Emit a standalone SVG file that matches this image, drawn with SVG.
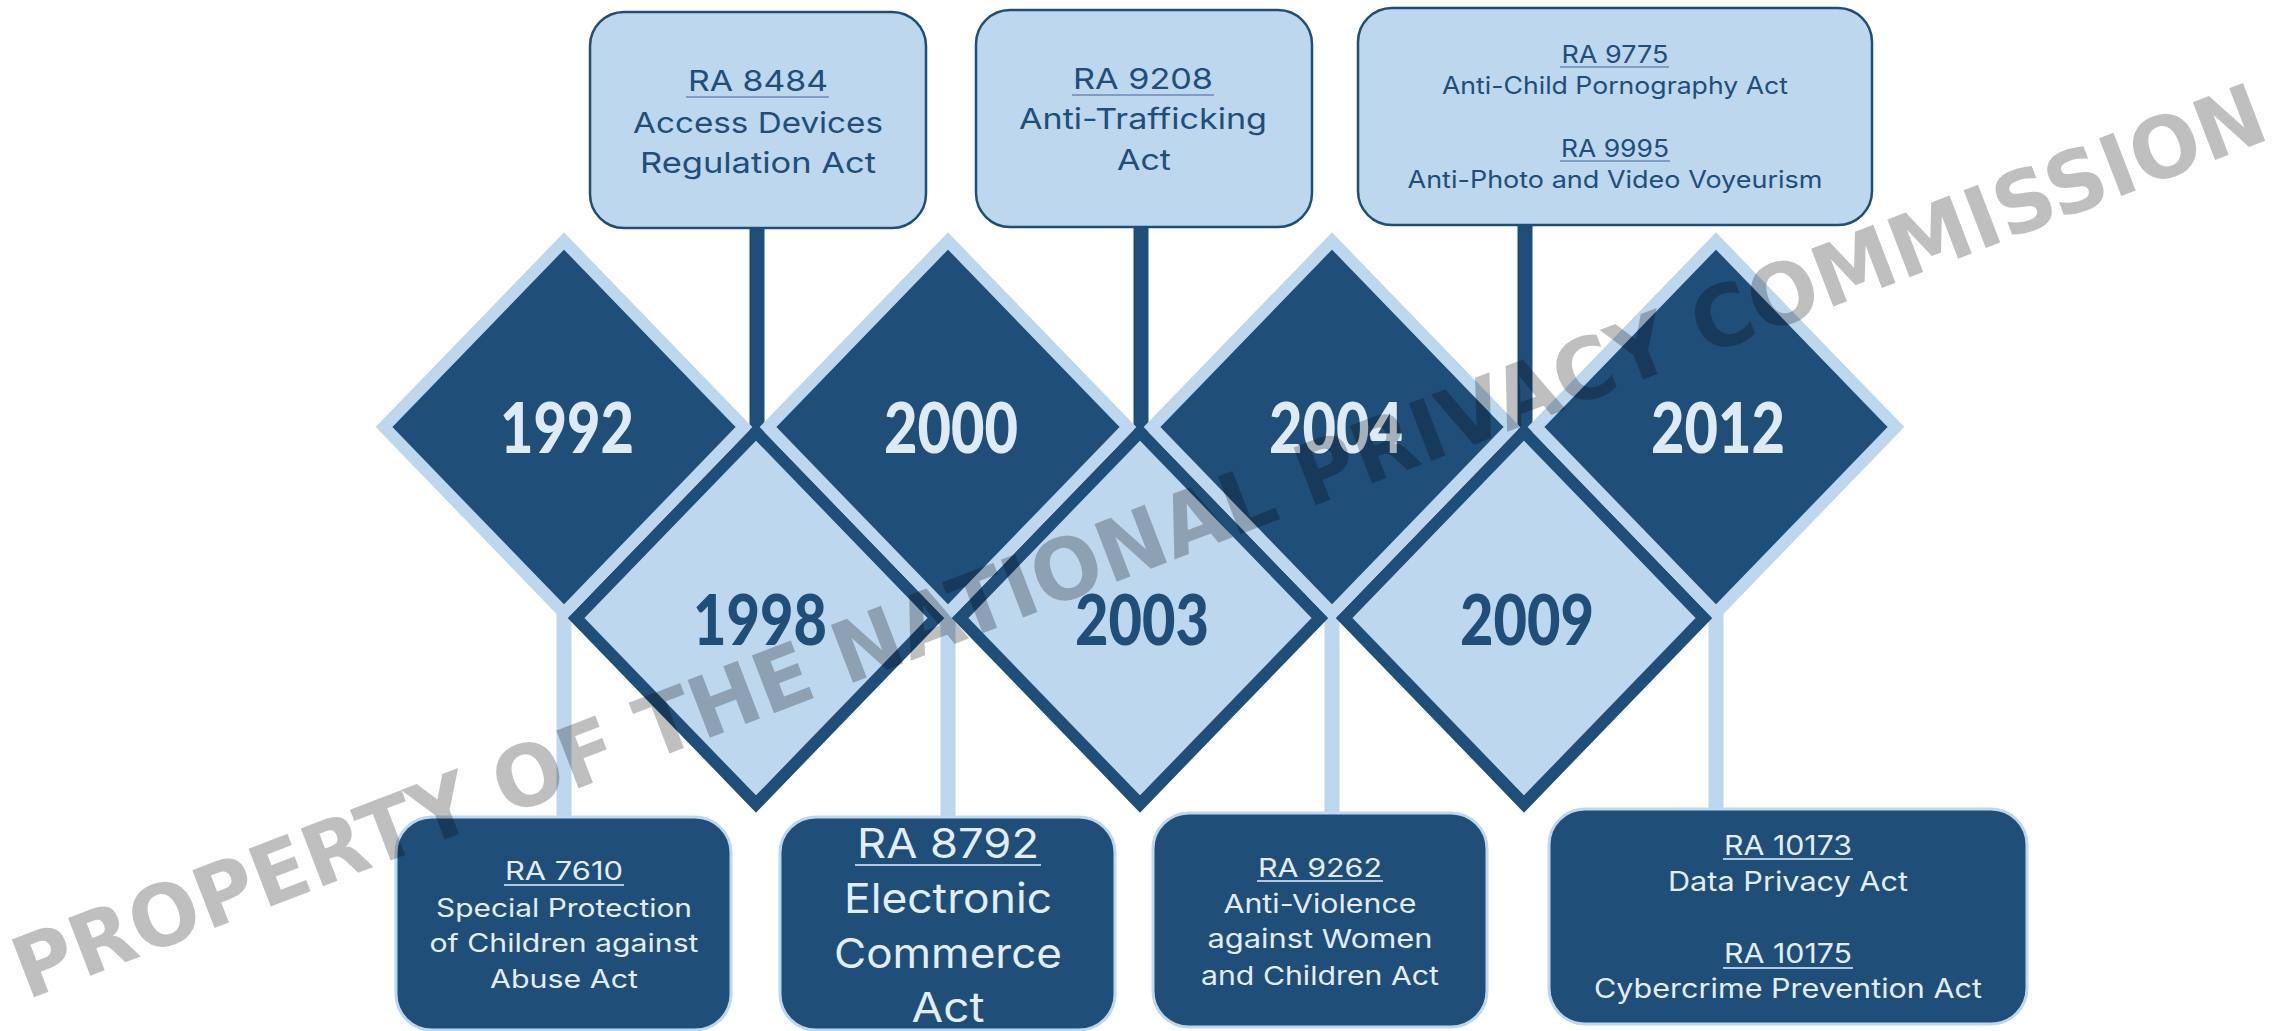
<svg xmlns="http://www.w3.org/2000/svg" width="2279" height="1031" viewBox="0 0 2279 1031">
<style>
.dk{fill:#1F4E79;stroke:#BDD7EE;stroke-width:12}
.lt{fill:#BDD7EE;stroke:#1F4E79;stroke-width:12}
.tb{fill:#BDD7EE;stroke:#1F4E79;stroke-width:2.5}
.bb{fill:#1F4E79;stroke:#BDD7EE;stroke-width:3}
.yr{font-family:Lato,"Liberation Sans",sans-serif;font-weight:900;font-size:71px;text-anchor:middle}
.yd{fill:#DEEBF7}
.yl{fill:#1F4E79}
.t{font-family:Inter,"Liberation Sans",sans-serif;text-anchor:middle}
.td{fill:#1F4E79}
.tl{fill:#E2EDF8}
.ud{stroke:#7F9DC3;stroke-width:2}
.ul{stroke:#AFC8E4;stroke-width:2}
.cd{stroke:#1F4E79;stroke-width:15;fill:none}
.cl{stroke:#BDD7EE;stroke-width:15;fill:none}
.wm{font-family:"DejaVu Sans",sans-serif;font-weight:700;font-size:85px;fill:#000;fill-opacity:.25}
</style>
<rect width="2279" height="1031" fill="#fff"/>
<g id="connectors">
<path class="cd" d="M757 228V432"/>
<path class="cd" d="M1141 226V432"/>
<path class="cd" d="M1525 224V432"/>
<path class="cl" d="M564 610V818"/>
<path class="cl" d="M948 610V818"/>
<path class="cl" d="M1332 610V814"/>
<path class="cl" d="M1716 610V810"/>
</g>
<g id="y1998"><path class="lt" d="M756 432L936 618L756 804L576 618Z"/><text class="yr yl" x="760" y="645" textLength="134" lengthAdjust="spacingAndGlyphs">1998</text></g>
<g id="y2003"><path class="lt" d="M1140 432L1320 618L1140 804L960 618Z"/><text class="yr yl" x="1142" y="645" textLength="134" lengthAdjust="spacingAndGlyphs">2003</text></g>
<g id="y2009"><path class="lt" d="M1524 432L1704 618L1524 804L1344 618Z"/><text class="yr yl" x="1527" y="645" textLength="134" lengthAdjust="spacingAndGlyphs">2009</text></g>
<g id="y1992"><path class="dk" d="M564 241L744 427L564 613L384 427Z"/><text class="yr yd" x="567" y="453" textLength="134" lengthAdjust="spacingAndGlyphs">1992</text></g>
<g id="y2000"><path class="dk" d="M948 241L1128 427L948 613L768 427Z"/><text class="yr yd" x="951" y="453" textLength="134" lengthAdjust="spacingAndGlyphs">2000</text></g>
<g id="y2004"><path class="dk" d="M1332 241L1512 427L1332 613L1152 427Z"/><text class="yr yd" x="1336" y="453" textLength="134" lengthAdjust="spacingAndGlyphs">2004</text></g>
<g id="y2012"><path class="dk" d="M1716 241L1896 427L1716 613L1536 427Z"/><text class="yr yd" x="1718" y="453" textLength="134" lengthAdjust="spacingAndGlyphs">2012</text></g>
<g id="ra8484">
<rect class="tb" x="590" y="12" width="336" height="216" rx="34"/>
<g class="t td" font-size="29">
<text x="758" y="91" textLength="140" lengthAdjust="spacingAndGlyphs">RA 8484</text>
<text x="758" y="133" textLength="250" lengthAdjust="spacingAndGlyphs">Access Devices</text>
<text x="758" y="173" textLength="236" lengthAdjust="spacingAndGlyphs">Regulation Act</text>
</g>
<line class="ud" x1="686" y1="97" x2="829" y2="97"/>
</g>
<g id="ra9208">
<rect class="tb" x="976" y="10" width="336" height="217" rx="34"/>
<g class="t td" font-size="29">
<text x="1143" y="89" textLength="140" lengthAdjust="spacingAndGlyphs">RA 9208</text>
<text x="1143" y="129" textLength="248" lengthAdjust="spacingAndGlyphs">Anti-Trafficking</text>
<text x="1144" y="170" textLength="54" lengthAdjust="spacingAndGlyphs">Act</text>
</g>
<line class="ud" x1="1072" y1="95" x2="1214" y2="95"/>
</g>
<g id="ra9775">
<rect class="tb" x="1358" y="8" width="514" height="217" rx="34"/>
<g class="t td" font-size="24">
<text x="1615" y="63" textLength="107" lengthAdjust="spacingAndGlyphs">RA 9775</text>
<text x="1615" y="94" textLength="346" lengthAdjust="spacingAndGlyphs">Anti-Child Pornography Act</text>
<text x="1615" y="157" textLength="108" lengthAdjust="spacingAndGlyphs">RA 9995</text>
<text x="1615" y="188" textLength="415" lengthAdjust="spacingAndGlyphs">Anti-Photo and Video Voyeurism</text>
</g>
<line class="ud" x1="1560" y1="67" x2="1669" y2="67"/>
<line class="ud" x1="1560" y1="161" x2="1670" y2="161"/>
</g>
<g id="ra7610">
<rect class="bb" x="396" y="817" width="335" height="213" rx="36"/>
<g class="t tl" font-size="25">
<text x="564" y="880" textLength="118" lengthAdjust="spacingAndGlyphs">RA 7610</text>
<text x="564" y="917" textLength="256" lengthAdjust="spacingAndGlyphs">Special Protection</text>
<text x="564" y="952" textLength="269" lengthAdjust="spacingAndGlyphs">of Children against</text>
<text x="564" y="988" textLength="148" lengthAdjust="spacingAndGlyphs">Abuse Act</text>
</g>
<line class="ul" x1="504" y1="885" x2="624" y2="885"/>
</g>
<g id="ra8792">
<rect class="bb" x="780" y="817" width="335" height="213" rx="36"/>
<g class="t tl" font-size="41">
<text x="948" y="858" textLength="182" lengthAdjust="spacingAndGlyphs">RA 8792</text>
<text x="948" y="913" textLength="208" lengthAdjust="spacingAndGlyphs">Electronic</text>
<text x="948" y="968" textLength="228" lengthAdjust="spacingAndGlyphs">Commerce</text>
<text x="948" y="1022" textLength="73" lengthAdjust="spacingAndGlyphs">Act</text>
</g>
<line class="ul" x1="855" y1="865" x2="1041" y2="865"/>
</g>
<g id="ra9262">
<rect class="bb" x="1153" y="813" width="334" height="214" rx="36"/>
<g class="t tl" font-size="26">
<text x="1320" y="877" textLength="124" lengthAdjust="spacingAndGlyphs">RA 9262</text>
<text x="1320" y="913" textLength="193" lengthAdjust="spacingAndGlyphs">Anti-Violence</text>
<text x="1320" y="948" textLength="225" lengthAdjust="spacingAndGlyphs">against Women</text>
<text x="1320" y="985" textLength="238" lengthAdjust="spacingAndGlyphs">and Children Act</text>
</g>
<line class="ul" x1="1257" y1="881" x2="1383" y2="881"/>
</g>
<g id="ra10173">
<rect class="bb" x="1549" y="809" width="478" height="215" rx="36"/>
<g class="t tl" font-size="27">
<text x="1788" y="855" textLength="128" lengthAdjust="spacingAndGlyphs">RA 10173</text>
<text x="1788" y="891" textLength="240" lengthAdjust="spacingAndGlyphs">Data Privacy Act</text>
<text x="1788" y="963" textLength="128" lengthAdjust="spacingAndGlyphs">RA 10175</text>
<text x="1788" y="998" textLength="388" lengthAdjust="spacingAndGlyphs">Cybercrime Prevention Act</text>
</g>
<line class="ul" x1="1723" y1="859" x2="1853" y2="859"/>
<line class="ul" x1="1723" y1="968" x2="1853" y2="968"/>
</g>
<g id="watermark">
<text class="wm" transform="translate(27 1000) rotate(-21)" x="0" y="0" textLength="2405" lengthAdjust="spacingAndGlyphs">PROPERTY OF THE NATIONAL PRIVACY COMMISSION</text>
</g>
</svg>
